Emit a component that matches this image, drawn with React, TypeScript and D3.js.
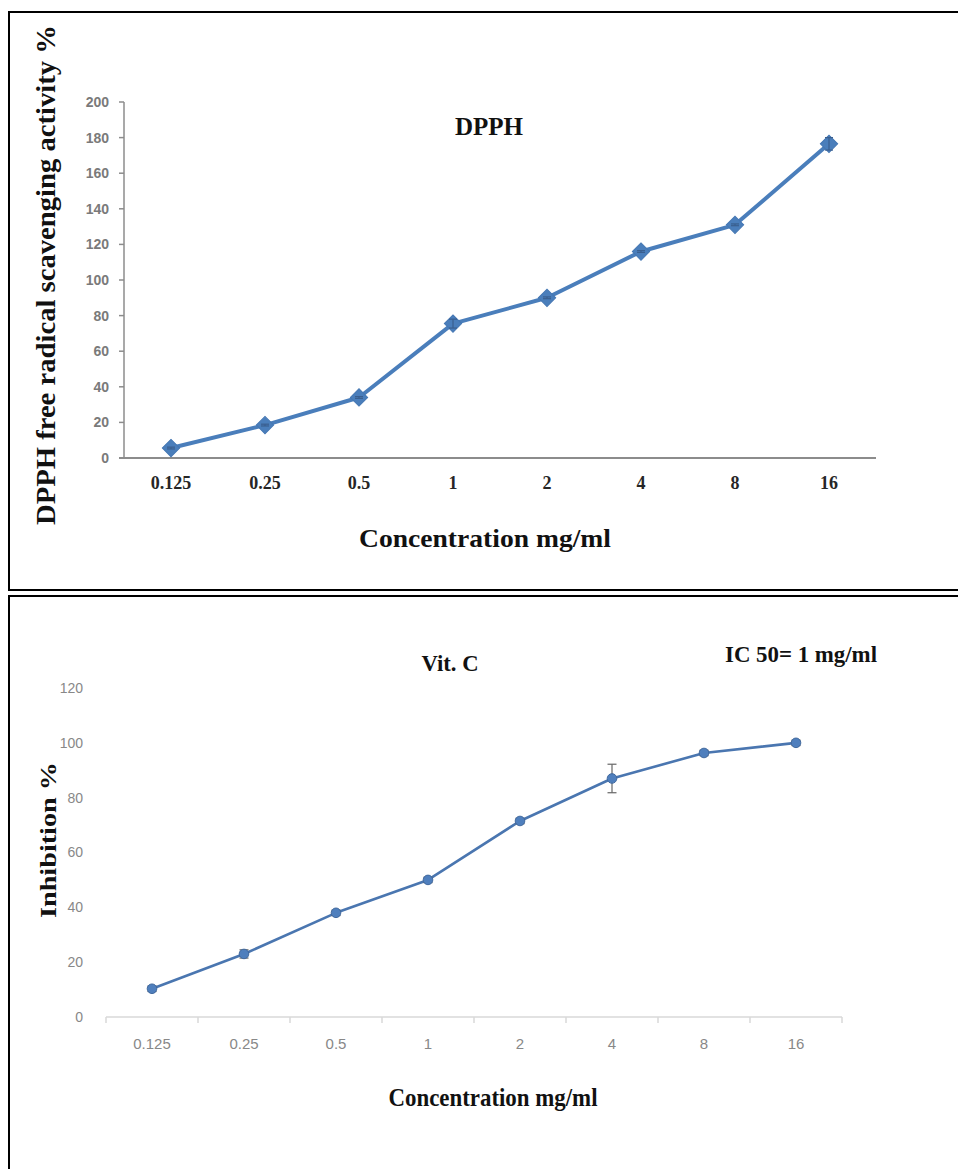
import * as d3 from 'd3';

const concentrations = ['0.125', '0.25', '0.5', '1', '2', '4', '8', '16'];
const dpphValues = [5.6, 18.5, 34, 75.5, 90, 116, 131, 176.5];
const dpphErrors = [0.5, 0.5, 0.5, 2.5, 0.5, 0.5, 0.5, 3.5];
const dpphTicks = [0, 20, 40, 60, 80, 100, 120, 140, 160, 180, 200];
const vitcValues = [10.3, 23, 38, 50, 71.5, 87, 96.3, 100];
const vitcErrors = [1, 1.5, 1, 1, 1, 5.2, 1, 1];
const vitcTicks = [0, 20, 40, 60, 80, 100, 120];

const serif = "'Liberation Serif', 'Times New Roman', serif";
const sans = "'Liberation Sans', Arial, sans-serif";

function DpphChart() {
  const x = d3.scaleBand().domain(concentrations).range([124, 876]);
  const y = d3.scaleLinear().domain([0, 200]).range([458, 102]);
  const cx = (c: string) => (x(c) as number) + x.bandwidth() / 2;
  const pts = concentrations.map((c, i) => ({ c, v: dpphValues[i], e: dpphErrors[i] }));
  const line = d3.line<any>().x(d => cx(d.c)).y(d => y(d.v));
  const diamond = d3.symbol().type(d3.symbolSquare).size(150)();

  return (
    <g>
      <path d="M960,12 H9 V590 H960" fill="none" stroke="#000" strokeWidth={2} />
      {/* y axis */}
      <line x1={124} x2={124} y1={y(200)} y2={y(0)} stroke="#8c8c8c" strokeWidth={1.5} />
      {dpphTicks.map(t => (
        <g key={t}>
          <line x1={119} x2={124} y1={y(t)} y2={y(t)} stroke="#8c8c8c" strokeWidth={1.5} />
          <text x={109} y={y(t)} dy="0.35em" textAnchor="end" fontFamily={sans} fontWeight="bold"
            fontSize={14} fill="#7a7a7a">{t}</text>
        </g>
      ))}
      {/* x axis */}
      <line x1={119} x2={876} y1={y(0)} y2={y(0)} stroke="#8c8c8c" strokeWidth={2} />
      {concentrations.map(c => (
        <text key={c} x={cx(c)} y={489} textAnchor="middle" fontFamily={serif} fontWeight="bold"
          fontSize={18} fill="#262626">{c}</text>
      ))}
      <path d={line(pts) as string} fill="none" stroke="#4a7ebb" strokeWidth={4} strokeLinejoin="round" />
      {pts.map(d => (
        <g key={d.c}>
          <path d={diamond as string} transform={`translate(${cx(d.c)},${y(d.v)}) rotate(45)`} fill="#4a7ebb" stroke="#4577b3" strokeWidth={1} />
          <line x1={cx(d.c)} x2={cx(d.c)} y1={y(d.v - d.e)} y2={y(d.v + d.e)} stroke="#3a5f8f" strokeWidth={1.2} />
          <line x1={cx(d.c) - 4} x2={cx(d.c) + 4} y1={y(d.v + d.e)} y2={y(d.v + d.e)} stroke="#3a5f8f" strokeWidth={1.2} />
          <line x1={cx(d.c) - 4} x2={cx(d.c) + 4} y1={y(d.v - d.e)} y2={y(d.v - d.e)} stroke="#3a5f8f" strokeWidth={1.2} />
        </g>
      ))}
      <text x={489} y={135} textAnchor="middle" fontFamily={serif} fontWeight="bold" fontSize={25}
        fill="#111">DPPH</text>
      <text transform="translate(55,275) rotate(-90)" textAnchor="middle" fontFamily={serif} fontWeight="bold"
        fontSize={28} fill="#111" textLength={500} lengthAdjust="spacingAndGlyphs">
        DPPH free radical scavenging activity %
      </text>
      <text x={485} y={547} textAnchor="middle" fontFamily={serif} fontWeight="bold" fontSize={26}
        fill="#111" textLength={252} lengthAdjust="spacingAndGlyphs">Concentration mg/ml</text>
    </g>
  );
}

function VitCChart() {
  const x = d3.scaleBand().domain(concentrations).range([106, 842]);
  const y = d3.scaleLinear().domain([0, 120]).range([1017, 688]);
  const cx = (c: string) => (x(c) as number) + x.bandwidth() / 2;
  const pts = concentrations.map((c, i) => ({ c, v: vitcValues[i], e: vitcErrors[i] }));
  const line = d3.line<any>().x(d => cx(d.c)).y(d => y(d.v));
  const bounds = [...concentrations.map(c => x(c) as number), 842];

  return (
    <g>
      <path d="M9,1172 V596 H960" fill="none" stroke="#000" strokeWidth={2} />
      {vitcTicks.map(t => (
        <text key={t} x={83} y={y(t)} dy="0.35em" textAnchor="end" fontFamily={sans}
          fontSize={14} fill="#888">{t}</text>
      ))}
      <line x1={106} x2={842} y1={y(0)} y2={y(0)} stroke="#d9d9d9" strokeWidth={1.5} />
      {bounds.map((b, i) => (
        <line key={i} x1={b} x2={b} y1={y(0)} y2={y(0) + 6} stroke="#d9d9d9" strokeWidth={1.5} />
      ))}
      {concentrations.map(c => (
        <text key={c} x={cx(c)} y={1049} textAnchor="middle" fontFamily={sans}
          fontSize={15} fill="#888">{c}</text>
      ))}
      <path d={line(pts) as string} fill="none" stroke="#4a76b0" strokeWidth={2.6} strokeLinejoin="round" />
      {pts.map(d => (
        <g key={d.c}>
          <line x1={cx(d.c)} x2={cx(d.c)} y1={y(d.v - d.e)} y2={y(d.v + d.e)} stroke="#666" strokeWidth={1.2} />
          <line x1={cx(d.c) - 4.5} x2={cx(d.c) + 4.5} y1={y(d.v + d.e)} y2={y(d.v + d.e)} stroke="#666" strokeWidth={1.2} />
          <line x1={cx(d.c) - 4.5} x2={cx(d.c) + 4.5} y1={y(d.v - d.e)} y2={y(d.v - d.e)} stroke="#666" strokeWidth={1.2} />
          <circle cx={cx(d.c)} cy={y(d.v)} r={4.8} fill="#4f7fbd" stroke="#41699e" strokeWidth={1} />
        </g>
      ))}
      <text x={450} y={671} textAnchor="middle" fontFamily={serif} fontWeight="bold" fontSize={24}
        fill="#111" textLength={57} lengthAdjust="spacingAndGlyphs">Vit. C</text>
      <text x={801} y={662} textAnchor="middle" fontFamily={serif} fontWeight="bold" fontSize={24}
        fill="#111" textLength={152} lengthAdjust="spacingAndGlyphs">IC 50= 1 mg/ml</text>
      <text transform="translate(56,840) rotate(-90)" textAnchor="middle" fontFamily={serif} fontWeight="bold"
        fontSize={24} fill="#111" textLength={156} lengthAdjust="spacingAndGlyphs">Inhibition %</text>
      <text x={493} y={1106} textAnchor="middle" fontFamily={serif} fontWeight="bold" fontSize={26}
        fill="#111" textLength={209} lengthAdjust="spacingAndGlyphs">Concentration mg/ml</text>
    </g>
  );
}

export default function App() {
  return (
    <svg width={958} height={1169} style={{ position: 'absolute', left: 0, top: 0, background: '#fff' }}>
      <rect width={958} height={1169} fill="#fff" />
      <DpphChart />
      <VitCChart />
    </svg>
  );
}
